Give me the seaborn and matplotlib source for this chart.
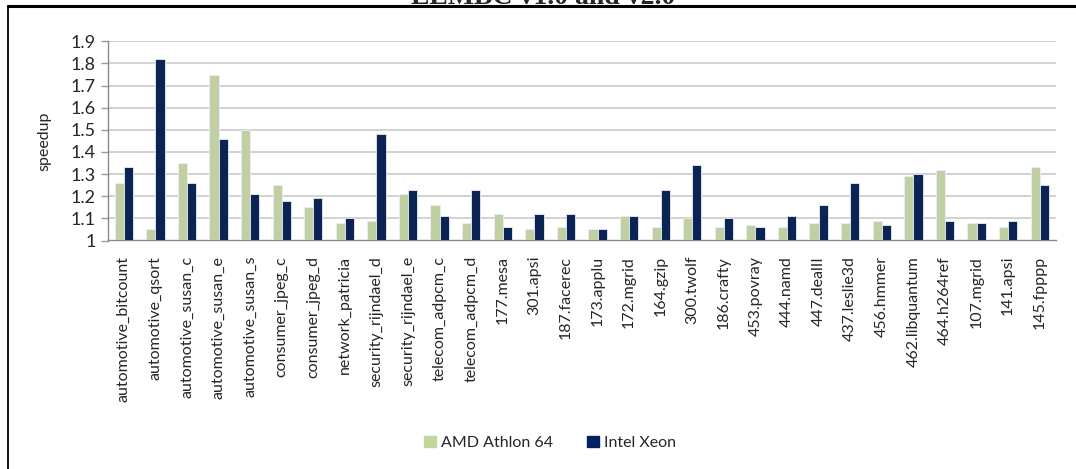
import pandas as pd
import numpy as np
import matplotlib
matplotlib.use("Agg")
import matplotlib.pyplot as plt
import seaborn as sns

# Benchmarks and speedups
benchmarks = [
    "automotive_bitcount", "automotive_qsort", "automotive_susan_c",
    "automotive_susan_e", "automotive_susan_s", "consumer_jpeg_c",
    "consumer_jpeg_d", "network_patricia", "security_rijndael_d",
    "security_rijndael_e", "telecom_adpcm_c", "telecom_adpcm_d",
    "177.mesa", "301.apsi", "187.facerec", "173.applu", "172.mgrid",
    "164.gzip", "300.twolf", "186.crafty", "453.povray", "444.namd",
    "447.dealII", "437.leslie3d", "456.hmmer", "462.libquantum",
    "464.h264ref", "107.mgrid", "141.apsi", "145.fpppp",
]
amd = [1.26, 1.05, 1.35, 1.75, 1.50, 1.25, 1.15, 1.08, 1.09, 1.21,
       1.16, 1.08, 1.12, 1.05, 1.06, 1.05, 1.11, 1.06, 1.10, 1.06,
       1.07, 1.06, 1.08, 1.08, 1.09, 1.29, 1.32, 1.08, 1.06, 1.33]
intel = [1.33, 1.82, 1.26, 1.46, 1.21, 1.18, 1.19, 1.10, 1.48, 1.23,
         1.11, 1.23, 1.06, 1.12, 1.12, 1.05, 1.11, 1.23, 1.34, 1.10,
         1.06, 1.11, 1.16, 1.26, 1.07, 1.30, 1.09, 1.08, 1.09, 1.25]
series = ["AMD Athlon 64", "Intel Xeon"]
colors = ["#c4d79b", "#002060"]
yticks = [1, 1.1, 1.2, 1.3, 1.4, 1.5, 1.6, 1.7, 1.8, 1.9]

df = pd.DataFrame({
    "benchmark": benchmarks * 2,
    "speedup": amd + intel,
    "cpu": [series[0]] * len(amd) + [series[1]] * len(intel),
})

sns.set_theme(style="white")
plt.rcParams["font.family"] = ["Lato", "DejaVu Sans"]

W, H = 1076, 469
fig = plt.figure(figsize=(W / 100, H / 100), dpi=100)
ax = fig.add_axes([108 / W, 1 - 240.5 / H, (1055.5 - 108) / W, (240.5 - 41.3) / H])

sns.barplot(data=df, x="benchmark", y="speedup", hue="cpu", order=benchmarks,
            hue_order=series, palette=colors, width=0.58, gap=0,
            edgecolor="#e8eef6", linewidth=0.6, ax=ax, legend=False, zorder=3)

ax.set_ylim(1, 1.9)
ax.set_xlim(-0.5, len(benchmarks) - 0.5)
ax.set_yticks(yticks)
ax.set_yticklabels(["1" if v == 1 else f"{v:.1f}" for v in yticks], fontsize=13)
for v in yticks[1:]:
    ax.axhline(v, color="#c6c6c6", lw=1.1, zorder=1)

ax.set_xticks(range(len(benchmarks)))
ax.set_xticklabels(benchmarks, rotation=90, fontsize=11.5)
ax.set_xticks(np.arange(-0.5, len(benchmarks), 1), minor=True)
ax.tick_params(axis="x", which="major", length=0, pad=11)
ax.tick_params(axis="x", which="minor", length=5, color="#9a9a9a", width=1, direction="out")
ax.tick_params(axis="y", length=5, color="#9a9a9a", width=1, direction="out", left=True, pad=4)

for s in ["top", "right"]:
    ax.spines[s].set_visible(False)
for s in ["left", "bottom"]:
    ax.spines[s].set_color("#8a8a8a")
    ax.spines[s].set_linewidth(1)

ax.set_xlabel("")
ax.set_ylabel("speedup", fontsize=11.5, labelpad=14)

# legend
handles = [plt.Rectangle((0, 0), 1, 1, color=c) for c in colors]
fig.legend(handles, series, loc="center", bbox_to_anchor=(550 / W, 1 - 443 / H),
           ncol=2, frameon=False, fontsize=11.5, handlelength=0.75, handleheight=0.75,
           handletextpad=0.3, columnspacing=2.1)

# frame lines and clipped title
fig.add_artist(plt.Line2D([7.5 / W, 1], [1 - 6 / H, 1 - 6 / H], color="black", lw=2.2))
fig.add_artist(plt.Line2D([7.5 / W, 7.5 / W], [0, 1 - 6 / H], color="black", lw=1.3))
fig.text(543 / W, 1 - 4 / H, "EEMBC v1.0 and v2.0", ha="center", va="baseline",
         fontsize=20, fontweight="bold", family="Liberation Serif")

fig.savefig("out.png", dpi=100)
